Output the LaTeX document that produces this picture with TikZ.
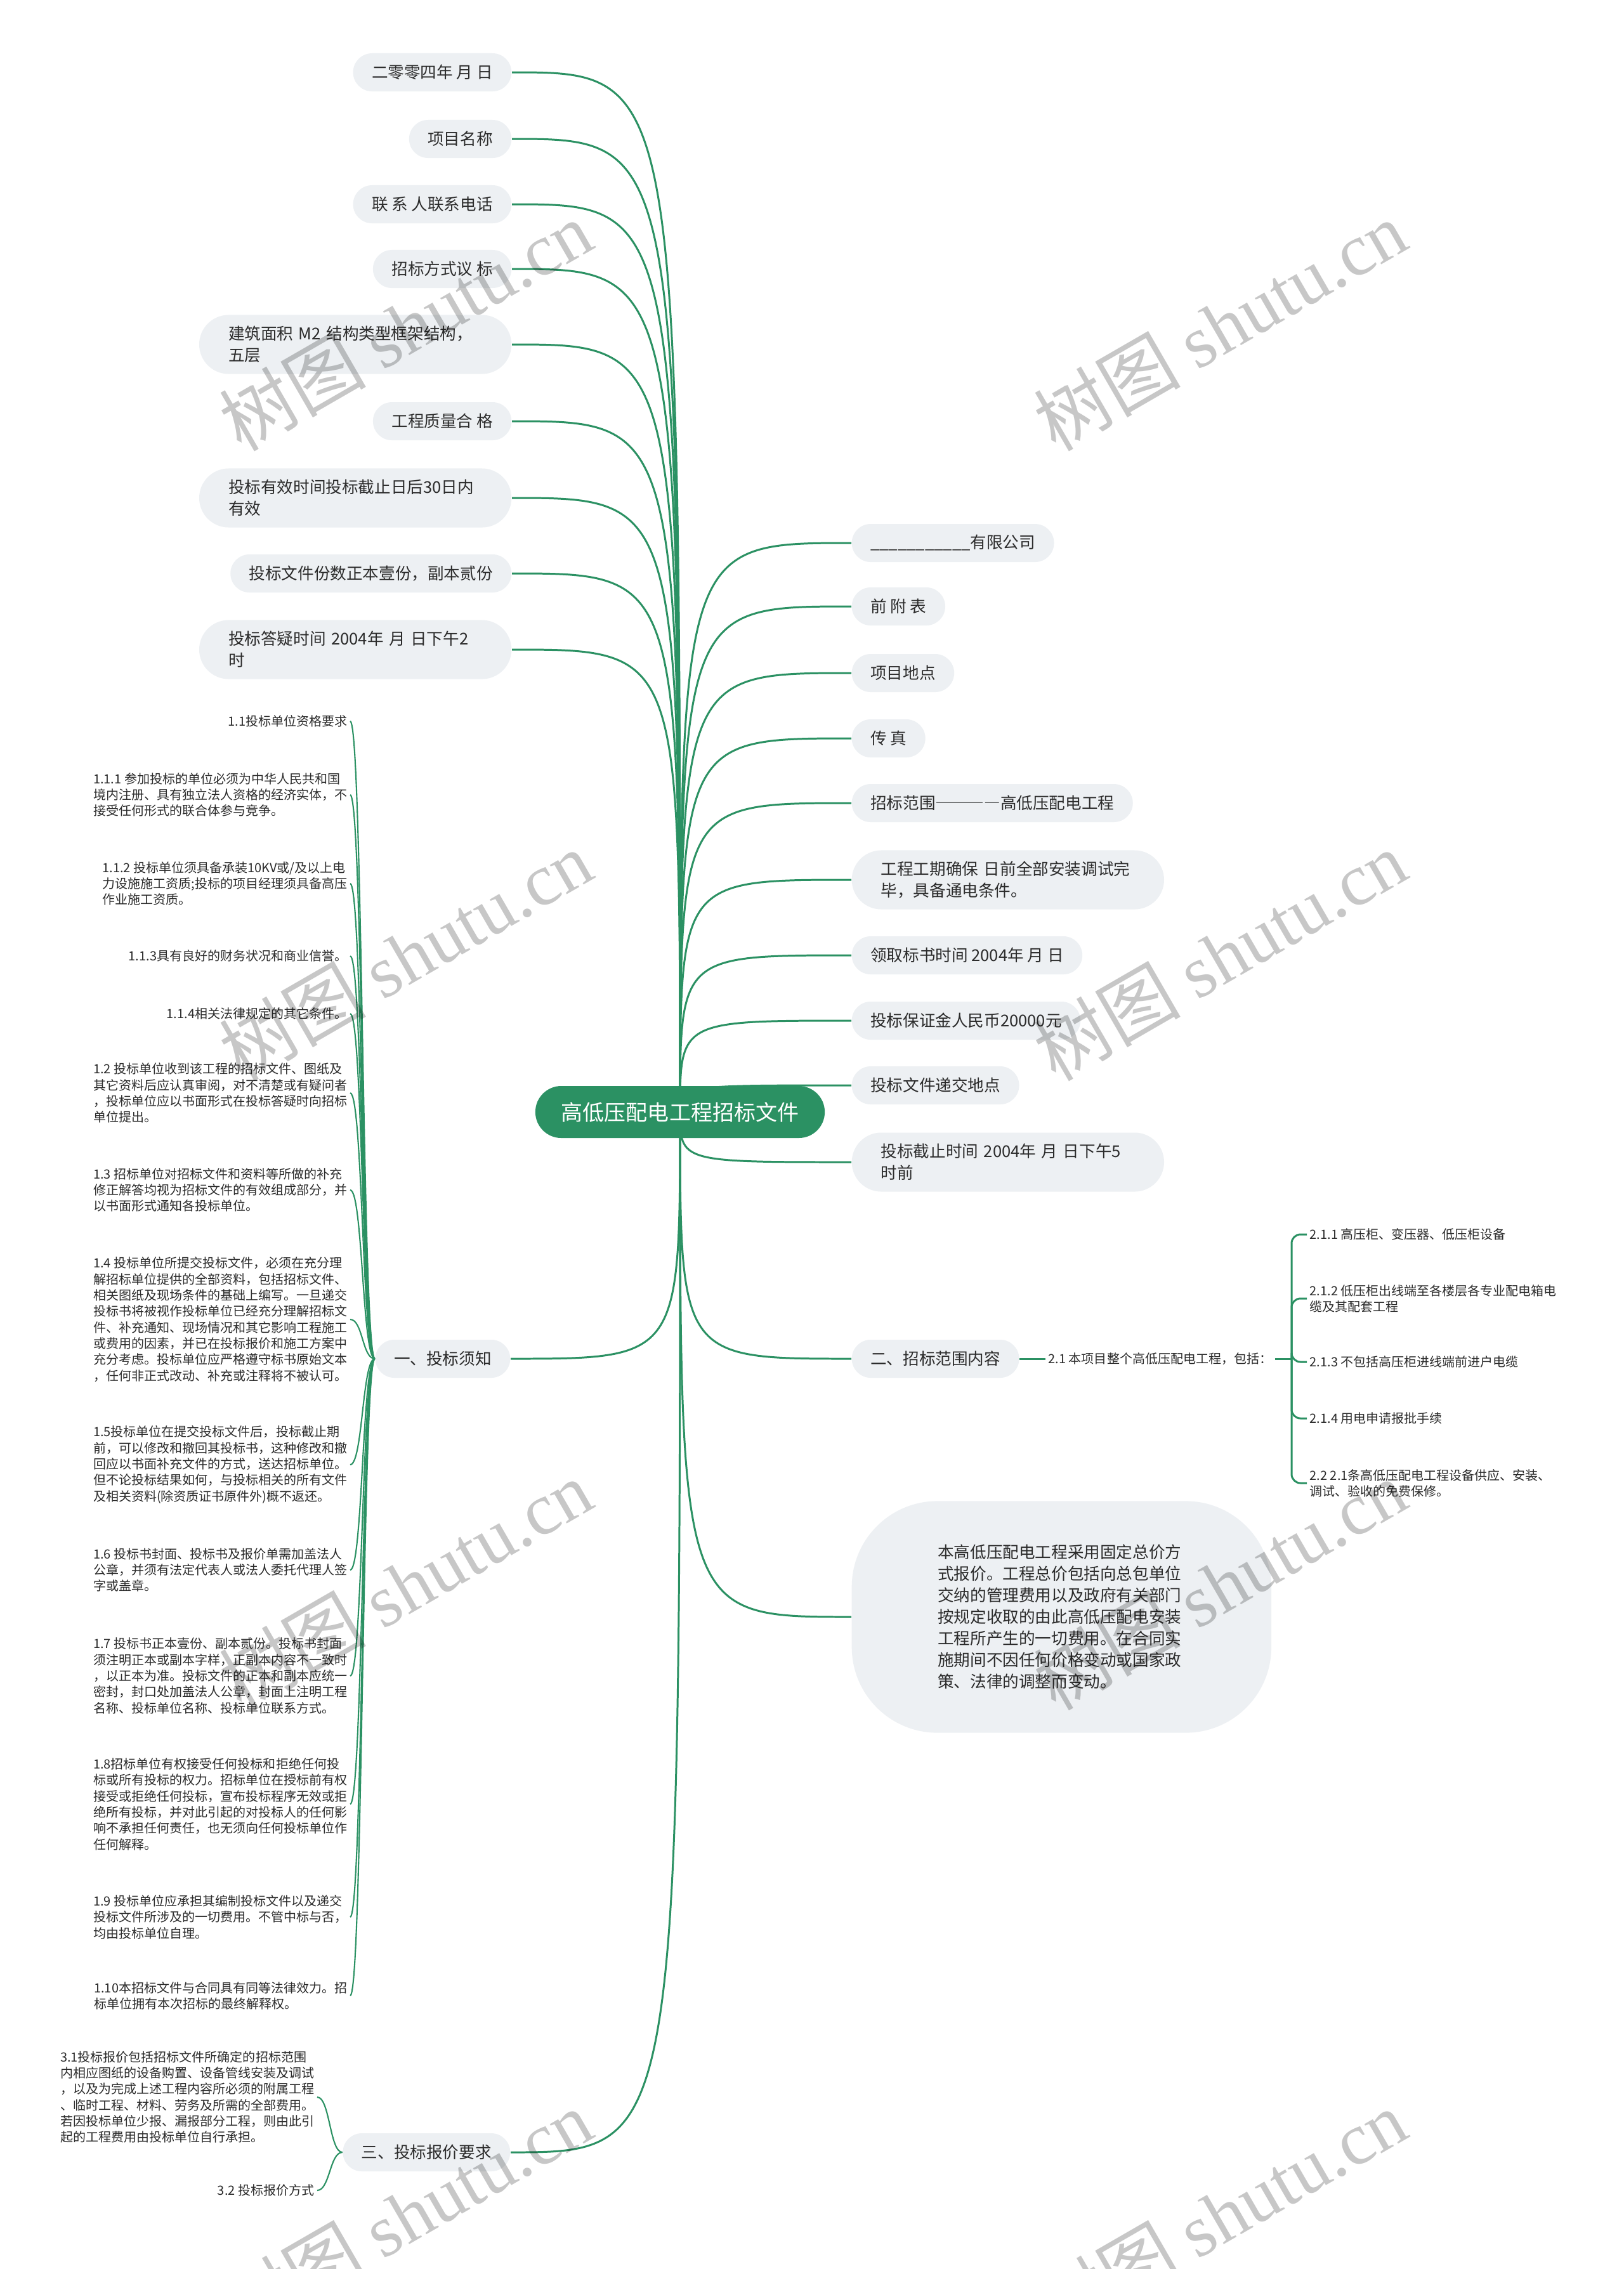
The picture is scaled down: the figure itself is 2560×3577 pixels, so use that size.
\documentclass[tikz,border=0pt]{standalone}
\usepackage{fontspec}
\setmainfont{Noto Sans CJK SC}
\newfontfamily\wmfont{Liberation Serif}
\usetikzlibrary{backgrounds,calc}
\definecolor{gr}{HTML}{2B9163}
\definecolor{nf}{HTML}{EDF0F3}
\definecolor{tc}{HTML}{2B2B2B}
\newcommand\mainsz{\fontsize{7.28pt}{9.67pt}\selectfont}
\newcommand\smallsz{\fontsize{5.69pt}{7.2pt}\selectfont}
\newcommand\rootsz{\fontsize{9.67pt}{12pt}\selectfont}
\newcommand\wmsz{\fontsize{33pt}{33pt}\selectfont}
\begin{document}
\begin{tikzpicture}[x=0.01cm,y=-0.01cm,
 leaf/.style={fill=nf, rounded corners=0.3cm, minimum height=0.6cm, inner xsep=0.295cm, inner ysep=0pt, font=\mainsz, text=tc},
 leaftwo/.style={fill=nf, rounded corners=0.465cm, minimum height=0.93cm, inner xsep=0.46cm, inner ysep=0pt, text width=4cm, align=left, font=\mainsz, text=tc},
 note/.style={font=\smallsz, text=tc, align=left, inner xsep=0.04cm, inner ysep=0pt},
 conn/.style={draw=gr, line width=0.85pt},
 brk/.style={draw=gr, line width=0.6pt},
 wm/.style={font=\wmsz, text=black, text opacity=0.22, rotate=30, inner sep=0pt}
]
\useasboundingbox (0,0) rectangle (2560,3577);

% root
\node[fill=gr, rounded corners=0.41cm, minimum width=4.56cm, minimum height=0.82cm, font=\rootsz, text=white, inner sep=0pt] (root) at (1072,1753) {高低压配电工程招标文件};

% upper left
\node[leaf, anchor=east] (a1) at (807,114) {二零零四年 月 日};
\node[leaf, anchor=east] (a2) at (807,219) {项目名称};
\node[leaf, anchor=east] (a3) at (807,322) {联 系 人联系电话};
\node[leaf, anchor=east] (a4) at (807,424) {招标方式议 标};
\node[leaftwo, anchor=east] (a5) at (807,543) {建筑面积 M2 结构类型框架结构，\\五层};
\node[leaf, anchor=east] (a6) at (807,664) {工程质量合 格};
\node[leaftwo, anchor=east] (a7) at (807,785) {投标有效时间投标截止日后30日内\\有效};
\node[leaf, anchor=east] (a8) at (807,904) {投标文件份数正本壹份，副本贰份};
\node[leaftwo, anchor=east] (a9) at (807,1024) {投标答疑时间 2004年 月 日下午2\\时};

% right
\node[leaf, anchor=west] (b1) at (1342,856) {\_\_\_\_\_\_\_\_\_\_\_有限公司};
\node[leaf, anchor=west] (b2) at (1342,956) {前 附 表};
\node[leaf, anchor=west] (b3) at (1342,1061) {项目地点};
\node[leaf, anchor=west] (b4) at (1342,1164) {传 真};
\node[leaf, anchor=west] (b5) at (1342,1266) {招标范围{\addfontfeature{CharacterWidth=Full}————}高低压配电工程};
\node[leaftwo, anchor=west] (b6) at (1342,1387) {工程工期确保 日前全部安装调试完\\毕，具备通电条件。};
\node[leaf, anchor=west] (b7) at (1342,1506) {领取标书时间 2004年 月 日};
\node[leaf, anchor=west] (b8) at (1342,1609) {投标保证金人民币20000元};
\node[leaf, anchor=west] (b9) at (1342,1711) {投标文件递交地点};
\node[leaftwo, anchor=west] (b10) at (1342,1832) {投标截止时间 2004年 月 日下午5\\时前};

% section two
\node[leaf, anchor=west] (er) at (1342,2142) {二、招标范围内容};
\node[note, anchor=west] (s21) at (1648,2142) {2.1 本项目整个高低压配电工程，包括：};
\coordinate (bk) at (2036,2142);
\node[note, anchor=west] (d1) at (2060,1946) {2.1.1 高压柜、变压器、低压柜设备};
\node[note, anchor=west] (d2) at (2060,2047) {2.1.2 低压柜出线端至各楼层各专业配电箱电\\缆及其配套工程};
\node[note, anchor=west] (d3) at (2060,2147) {2.1.3 不包括高压柜进线端前进户电缆};
\node[note, anchor=west] (d4) at (2060,2236) {2.1.4 用电申请报批手续};
\node[note, anchor=west] (d5) at (2060,2338) {2.2 2.1条高低压配电工程设备供应、安装、\\调试、验收的免费保修。};

% big right node
\node[fill=nf, rounded corners=1.35cm, minimum height=3.65cm, inner xsep=1.355cm, inner ysep=0pt, text width=3.9cm, align=left, font=\mainsz, text=tc, anchor=west] (big) at (1342,2549) {本高低压配电工程采用固定总价方\\式报价。工程总价包括向总包单位\\交纳的管理费用以及政府有关部门\\按规定收取的由此高低压配电安装\\工程所产生的一切费用。在合同实\\施期间不因任何价格变动或国家政\\策、法律的调整而变动。};

% section one
\node[leaf, anchor=east] (yi) at (805,2142) {一、投标须知};
\node[note, anchor=east] (c1) at (552,1137) {1.1投标单位资格要求};
\node[note, anchor=east] (c2) at (552,1253) {1.1.1 参加投标的单位必须为中华人民共和国\\境内注册、具有独立法人资格的经济实体，不\\接受任何形式的联合体参与竞争。};
\node[note, anchor=east] (c3) at (552,1393) {1.1.2 投标单位须具备承装10KV或/及以上电\\力设施施工资质;投标的项目经理须具备高压\\作业施工资质。};
\node[note, anchor=east] (c4) at (552,1507) {1.1.3具有良好的财务状况和商业信誉。};
\node[note, anchor=east] (c5) at (552,1598) {1.1.4相关法律规定的其它条件。};
\node[note, anchor=east] (c6) at (552,1723) {1.2 投标单位收到该工程的招标文件、图纸及\\其它资料后应认真审阅，对不清楚或有疑问者\\，投标单位应以书面形式在投标答疑时向招标\\单位提出。};
\node[note, anchor=east] (c7) at (552,1876) {1.3 招标单位对招标文件和资料等所做的补充\\修正解答均视为招标文件的有效组成部分，并\\以书面形式通知各投标单位。};
\node[note, anchor=east] (c8) at (552,2080) {1.4 投标单位所提交投标文件，必须在充分理\\解招标单位提供的全部资料，包括招标文件、\\相关图纸及现场条件的基础上编写。一旦递交\\投标书将被视作投标单位已经充分理解招标文\\件、补充通知、现场情况和其它影响工程施工\\或费用的因素，并已在投标报价和施工方案中\\充分考虑。投标单位应严格遵守标书原始文本\\，任何非正式改动、补充或注释将不被认可。};
\node[note, anchor=east] (c9) at (552,2309) {1.5投标单位在提交投标文件后，投标截止期\\前，可以修改和撤回其投标书，这种修改和撤\\回应以书面补充文件的方式，送达招标单位。\\但不论投标结果如何，与投标相关的所有文件\\及相关资料(除资质证书原件外)概不返还。};
\node[note, anchor=east] (c10) at (552,2475) {1.6 投标书封面、投标书及报价单需加盖法人\\公章，并须有法定代表人或法人委托代理人签\\字或盖章。};
\node[note, anchor=east] (c11) at (552,2642) {1.7 投标书正本壹份、副本贰份。投标书封面\\须注明正本或副本字样，正副本内容不一致时\\，以正本为准。投标文件的正本和副本应统一\\密封，封口处加盖法人公章，封面上注明工程\\名称、投标单位名称、投标单位联系方式。};
\node[note, anchor=east] (c12) at (552,2844) {1.8招标单位有权接受任何投标和拒绝任何投\\标或所有投标的权力。招标单位在授标前有权\\接受或拒绝任何投标，宣布投标程序无效或拒\\绝所有投标，并对此引起的对投标人的任何影\\响不承担任何责任，也无须向任何投标单位作\\任何解释。};
\node[note, anchor=east] (c13) at (552,3022) {1.9 投标单位应承担其编制投标文件以及递交\\投标文件所涉及的一切费用。不管中标与否，\\均由投标单位自理。};
\node[note, anchor=east] (c14) at (552,3146) {1.10本招标文件与合同具有同等法律效力。招\\标单位拥有本次招标的最终解释权。};

% section three
\node[leaf, anchor=east] (san) at (805,3393) {三、投标报价要求};
\node[note, anchor=east] (t1) at (500,3306) {3.1投标报价包括招标文件所确定的招标范围\\内相应图纸的设备购置、设备管线安装及调试\\，以及为完成上述工程内容所必须的附属工程\\、临时工程、材料、劳务及所需的全部费用。\\若因投标单位少报、漏报部分工程，则由此引\\起的工程费用由投标单位自行承担。};
\node[note, anchor=east] (t2) at (500,3453) {3.2 投标报价方式};

\begin{pgfonlayer}{background}
\fill[white] (0,0) rectangle (2560,3577);
\foreach \n in {a1,a2,a3,a4,a5,a6,a7,a8,a9,yi,san}
  \draw[conn] (root.center) .. controls (root.center |- \n.east) .. (\n.east);
\foreach \n in {b1,b2,b3,b4,b5,b6,b7,b8,b9,b10,er,big}
  \draw[conn] (root.center) .. controls (root.center |- \n.west) .. (\n.west);
\draw[conn] (er.east) -- (s21.west);
\draw[conn] (s21.east) -- (bk);
\foreach \n in {d1,d2,d3,d4,d5}
  \draw[conn, rounded corners=0.14cm] (bk) |- (\n.west);
\foreach \n in {c1,c2,c3,c4,c5,c6,c7,c8,c9,c10,c11,c12,c13,c14}
  \draw[brk] (yi.west) to[out=180,in=0,out distance=0.2cm,in distance=0.2cm] (\n.east);
\foreach \n in {t1,t2}
  \draw[brk] (san.west) to[out=180,in=0,out distance=0.2cm,in distance=0.2cm] (\n.east);
\end{pgfonlayer}

% watermark
\begin{scope}
\clip (0,0) rectangle (2560,3577);
\node[wm] (w1) at (639,513) {树图 {\wmfont shutu.cn}};
\node[wm] (w2) at (1923,513) {树图 {\wmfont shutu.cn}};
\node[wm] (w3) at (639,1506) {树图 {\wmfont shutu.cn}};
\node[wm] (w4) at (1923,1506) {树图 {\wmfont shutu.cn}};
\node[wm] (w5) at (639,2498) {树图 {\wmfont shutu.cn}};
\node[wm] (w6) at (1923,2498) {树图 {\wmfont shutu.cn}};
\node[wm] (w7) at (639,3491) {树图 {\wmfont shutu.cn}};
\node[wm] (w8) at (1923,3491) {树图 {\wmfont shutu.cn}};
\end{scope}
\end{tikzpicture}
\end{document}
